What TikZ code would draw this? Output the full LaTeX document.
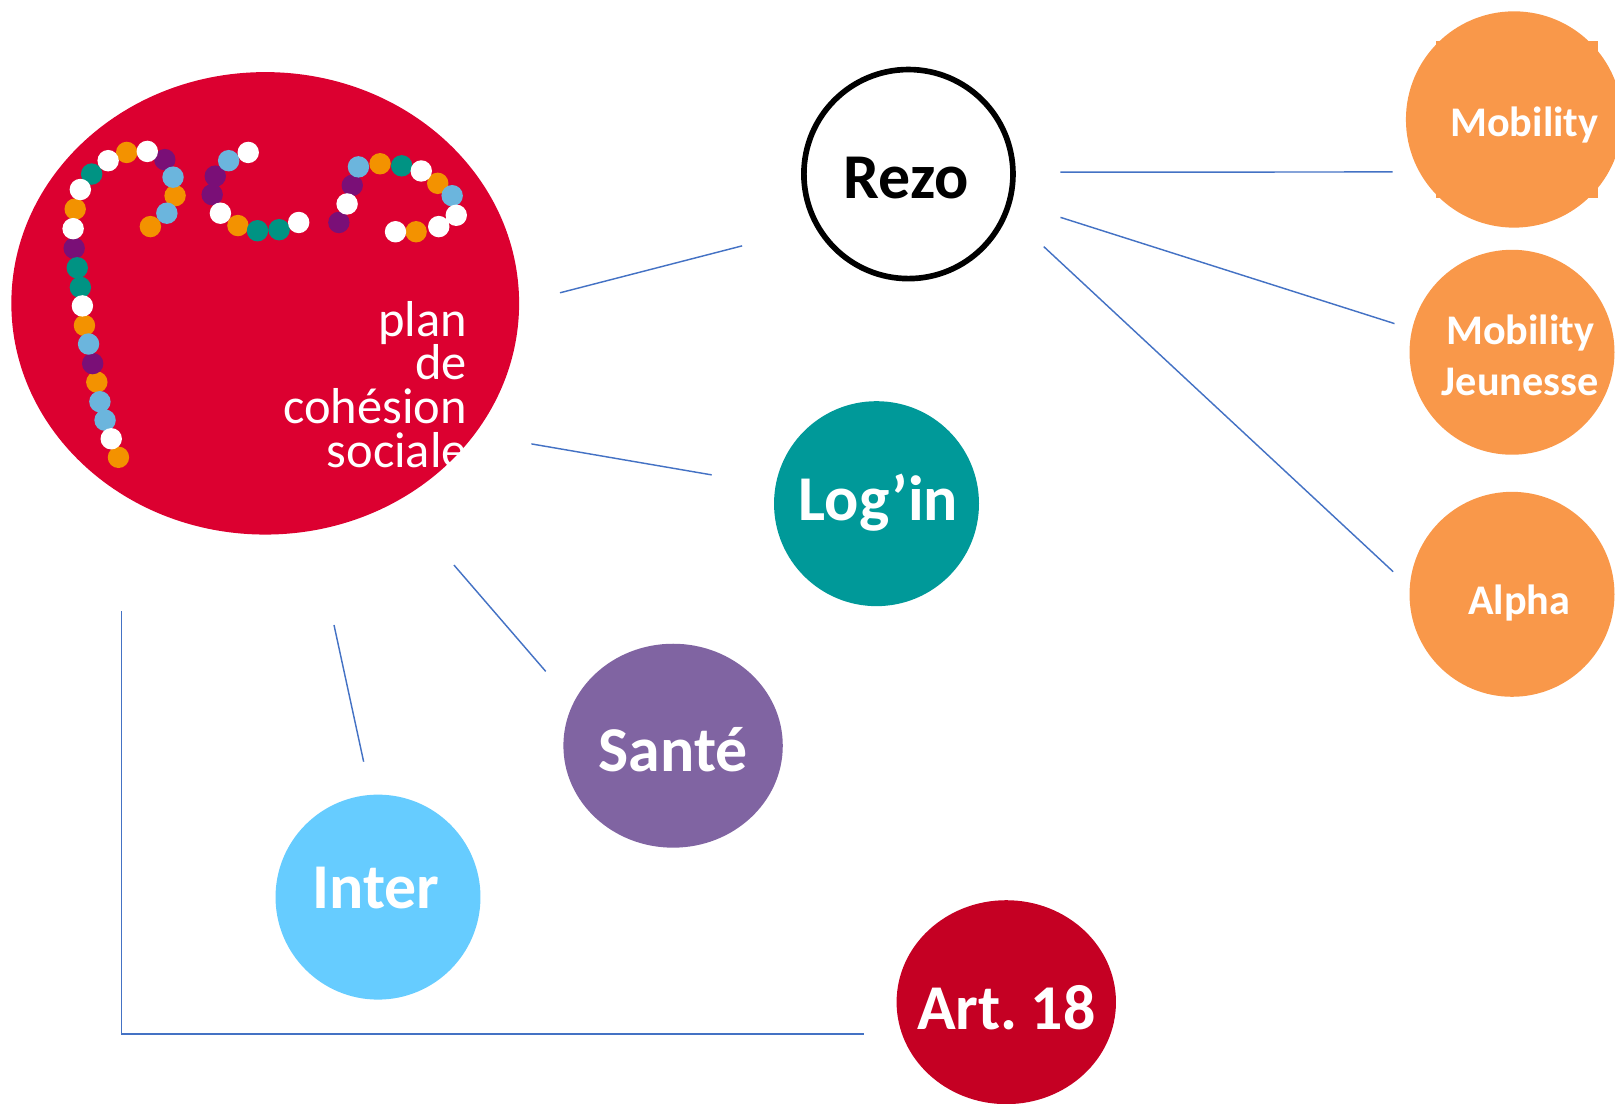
\documentclass[tikz,border=0pt]{standalone}
\usepackage{fontspec}
\setmainfont{Carlito}
\usetikzlibrary{shapes.geometric}
\definecolor{pcsred}{HTML}{DC0030}
\definecolor{dotorange}{HTML}{F39200}
\definecolor{dotblue}{HTML}{6BB5DD}
\definecolor{dotpurple}{HTML}{7A0F77}
\definecolor{dotteal}{HTML}{009383}
\definecolor{linkblue}{HTML}{4472C4}
\definecolor{mobilityorange}{HTML}{F9984A}
\definecolor{loginteal}{HTML}{009999}
\definecolor{santepurple}{HTML}{8064A2}
\definecolor{interblue}{HTML}{66CCFF}
\definecolor{artred}{HTML}{C50023}
\tikzset{
    link/.style={draw=linkblue, line width=1.4pt},
    bigtext/.style={font=\fontsize{62}{62}\selectfont\bfseries, inner sep=0pt, align=center},
    smalltext/.style={font=\fontsize{41}{50}\selectfont\bfseries, inner sep=0pt, align=center, text=white},
    rond/.style={circle, minimum size=199pt, inner sep=0pt, outer sep=0pt},
    oval/.style={ellipse, minimum width=213pt, minimum height=198pt, inner sep=0pt, outer sep=0pt}
}
\begin{document}
\begin{tikzpicture}[x=1pt, y=-1pt]
    \clip (0, 0) rectangle (1568, 1071);

    \node [ellipse, fill=pcsred, minimum width=493pt, minimum height=449pt, inner sep=0pt, outer sep=0pt] (pcs) at (257.5, 294.5) {};
    \fill [dotorange] (115, 444) circle (10.4) (94, 371) circle (10.4) (82, 316) circle (10.4) (73, 203) circle (10.4) (123, 148) circle (10.4) (170, 190) circle (10.4) (146, 220) circle (10.4)
        (231, 219) circle (10.4)
        (369, 159) circle (10.4) (425, 178) circle (10.4) (404, 225) circle (10.4);
    \fill [dotpurple] (90, 353) circle (10.4) (72, 241) circle (10.4) (160, 155) circle (10.4)
        (209, 171) circle (10.4) (206, 189) circle (10.4)
        (329, 216) circle (10.4) (342, 180) circle (10.4);
    \fill [dotblue] (102, 408) circle (10.4) (97, 390) circle (10.4) (86, 334) circle (10.4) (168, 172) circle (10.4) (162, 207) circle (10.4)
        (222, 156) circle (10.4)
        (348, 162) circle (10.4) (439, 190) circle (10.4);
    \fill [dotteal] (78, 279) circle (10.4) (75, 260) circle (10.4) (89, 169) circle (10.4)
        (250, 224) circle (10.4) (271, 223) circle (10.4)
        (390, 161) circle (10.4);
    \fill [white] (108, 426) circle (10.4) (80, 297) circle (10.4) (71, 222) circle (10.4) (78, 184) circle (10.4) (105, 156) circle (10.4) (143, 147) circle (10.4)
        (241, 148) circle (10.4) (214, 207) circle (10.4) (290, 216) circle (10.4)
        (337, 198) circle (10.4) (409, 166) circle (10.4) (443, 209) circle (10.4) (426, 220) circle (10.4) (384, 225) circle (10.4);
    \node [anchor=north east, align=right, inner sep=0pt, text=white, font=\fontsize{49}{42.6}\selectfont] (pcstext) at (453.5, 292) {plan\\de\\cohésion\\sociale};

    \node [rond, draw=black, line width=5.5pt, minimum size=203pt, label={[bigtext, xshift=-2pt, yshift=-4pt]center:Rezo}] (rezo) at (882, 169) {};
    \node [rond, fill=loginteal, label={[bigtext, text=white, xshift=2pt, yshift=1pt]center:Log’in}] (login) at (851, 489) {};
    \node [oval, fill=santepurple, label={[bigtext, text=white, yshift=-4pt]center:Santé}] (sante) at (653.5, 724) {};
    \node [rond, fill=interblue, label={[bigtext, text=white, xshift=-2pt, yshift=9pt]center:Inter}] (inter) at (367, 871) {};
    \node [oval, fill=artred, label={[bigtext, text=white, yshift=-5pt]center:\spaceskip=8pt Art. 18}] (art) at (977, 973) {};

    \fill [mobilityorange] (1394, 40) rectangle (1551, 192);
    \node [rond, minimum size=210pt, fill=mobilityorange, label={[smalltext, xshift=10pt, yshift=-5pt]center:Mobility}] (mobility) at (1470, 116) {};
    \node [rond, fill=mobilityorange, label={[smalltext, xshift=8pt, yshift=-3pt]center:Mobility\\Jeunesse}] (jeunesse) at (1468, 342) {};
    \node [rond, fill=mobilityorange, label={[smalltext, xshift=7pt, yshift=-8pt]center:Alpha}] (alpha) at (1468, 577) {};

    \draw [link, shorten <=41pt, shorten >=76pt] (pcs.east) -- (rezo.210);
    \draw [link, shorten <=56pt, shorten >=63pt] (pcs.-32) -- (login.170);
    \draw [link, shorten <=83pt, shorten >=41pt] (pcs.-56) -- (sante.157);
    \draw [link, shorten <=94pt, shorten >=33pt] (pcs.-78) -- (inter.94);
    \draw [link, shorten <=114pt, shorten >=37pt] (pcs.-127.2) |- (art.197);
    \draw [link, shorten <=46pt, shorten >=26pt] (rezo.1) -- (mobility.209);
    \draw [link, shorten <=52pt, shorten >=18pt] (rezo.-15) -- (jeunesse.167);
    \draw [link, shorten <=50pt, shorten >=22pt] (rezo.-21.5) -- (alpha.176);
\end{tikzpicture}
\end{document}
